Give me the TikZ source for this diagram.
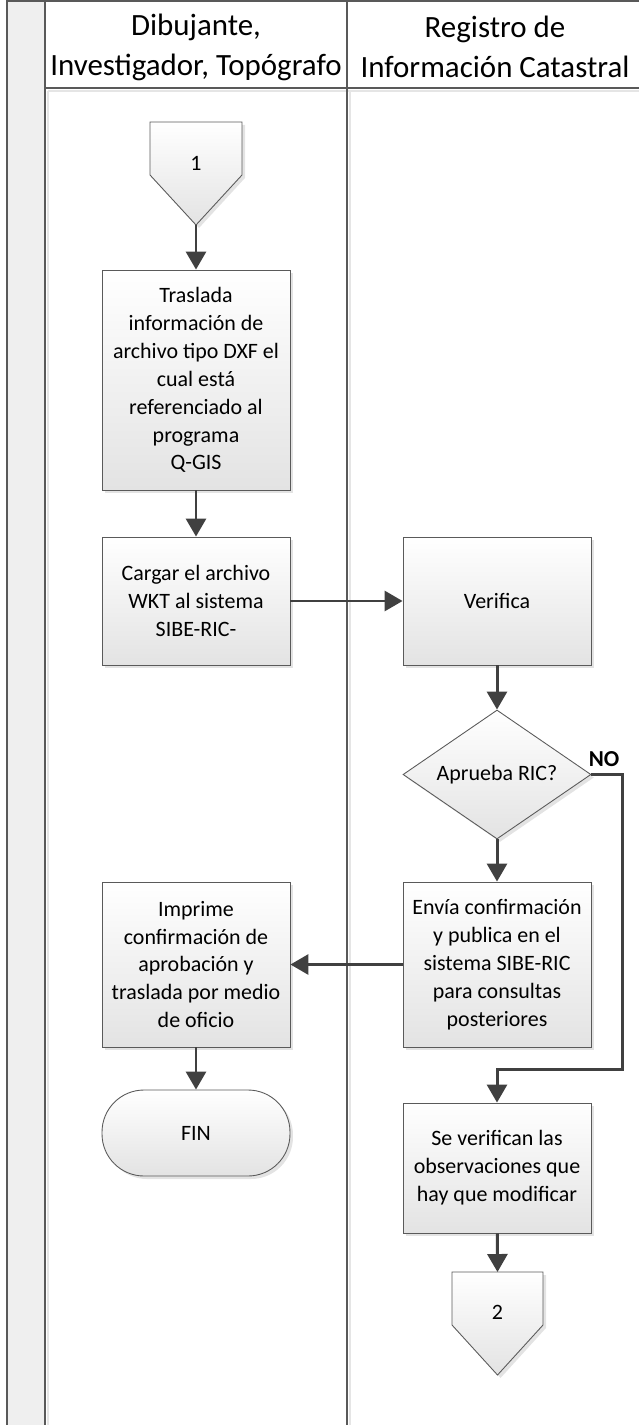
\documentclass[tikz,border=0pt]{standalone}
\usepackage{fontspec}
\setmainfont{Carlito}
\usetikzlibrary{arrows.meta,shapes.geometric,shadows}

\definecolor{flowgray}{HTML}{404040}
\definecolor{edgegray}{HTML}{5A5A5A}
\definecolor{stripgray}{HTML}{EFEFEF}

\begin{document}
\begin{tikzpicture}[x=0.02cm, y=-0.02cm,
	every node/.style={font=\fontsize{12.5}{15.9}\selectfont, align=center},
	shaded/.style={draw=edgegray, line width=0.5pt, top color=white, bottom color=black!11,
		drop shadow={shadow xshift=0.06cm, shadow yshift=-0.06cm, opacity=0.22}},
	proc/.style={shaded, rectangle, minimum width=3.76cm, inner sep=2pt},
	decision/.style={shaded, diamond, aspect=1.46, minimum width=3.76cm, minimum height=2.58cm, inner sep=1pt},
	terminal/.style={shaded, rectangle, rounded corners=0.84cm, minimum width=3.76cm, minimum height=1.72cm},
	flow/.style={draw=flowgray, line width=1.7pt, -{Triangle[length=3.6mm,width=4mm]}},
	lane/.style={draw=black!65, line width=0.6pt},
	laneshadow/.style={draw=black!10, line width=1.6pt},
	header/.style={font=\fontsize{17.6}{22.7}\selectfont}]
	\useasboundingbox (0,0) rectangle (639,1425);
	% swimlanes
	\fill[stripgray] (7,1) rectangle (45,1425);
	\draw[laneshadow] (48,91) -- (48,1425);
	\draw[laneshadow] (350,91) -- (350,1425);
	\draw[laneshadow] (48,91) -- (639,91);
	\draw[lane] (7,1425) -- (7,1) -- (639,1);
	\draw[lane] (45,1) -- (45,1425);
	\draw[lane] (347,1) -- (347,1425);
	\draw[lane] (45,88) -- (639,88);
	\node[header] (lane1) at (196,47) {Dibujante,\\Investigador, Topógrafo};
	\node[header] (lane2) at (495,47) {Registro de\\Información Catastral};
	% off-page connector 1
	\path[shaded] (150,122) -- (242,122) -- (242,175) -- (196,225) -- (150,175) -- cycle;
	\node (c1) at (196,163) {1};
	\coordinate (c1tip) at (196,225);
	% steps
	\node[proc, minimum height=4.4cm] (traslada) at (196,380) {Traslada\\información de\\archivo tipo DXF el\\cual está\\referenciado al\\programa\\Q-GIS};
	\node[proc, minimum height=2.56cm] (cargar) at (196,601) {Cargar el archivo\\WKT al sistema\\SIBE-RIC-};
	\node[proc, minimum height=2.56cm] (verifica) at (497,601) {Verifica};
	\node[decision] (aprueba) at (497,774.5) {Aprueba RIC?};
	\node[proc, minimum height=3.3cm] (envia) at (497,964.5) {Envía confirmación\\y publica en el\\sistema SIBE-RIC\\para consultas\\posteriores};
	\node[proc, minimum height=3.3cm] (imprime) at (196,964.5) {Imprime\\confirmación de\\aprobación y\\traslada por medio\\de oficio};
	\node[terminal] (fin) at (196,1133) {FIN};
	\node[proc, minimum height=2.6cm] (verifican) at (497,1168) {Se verifican las\\observaciones que\\hay que modificar};
	% off-page connector 2
	\path[shaded] (452,1272) -- (543,1272) -- (543,1325) -- (497.5,1375) -- (452,1325) -- cycle;
	\node (c2) at (497.5,1312) {2};
	\coordinate (c2top) at (497.5,1272);
	% connectors
	\draw[flow] (c1tip) -- (traslada);
	\draw[flow] (traslada) -- (cargar);
	\draw[flow] (cargar) -- (verifica);
	\draw[flow] (verifica) -- (aprueba);
	\draw[flow] (aprueba) -- (envia);
	\draw[flow] (envia) -- (imprime);
	\draw[flow] (imprime) -- (fin);
	\coordinate (noturn) at (622,1069);
	\draw[flow] (aprueba.east) -| (noturn) -| (verifican);
	\node[font=\fontsize{13}{15}\selectfont\bfseries] (no) at (604,759) {NO};
	\draw[flow] (verifican) -- (c2top);
\end{tikzpicture}
\end{document}
